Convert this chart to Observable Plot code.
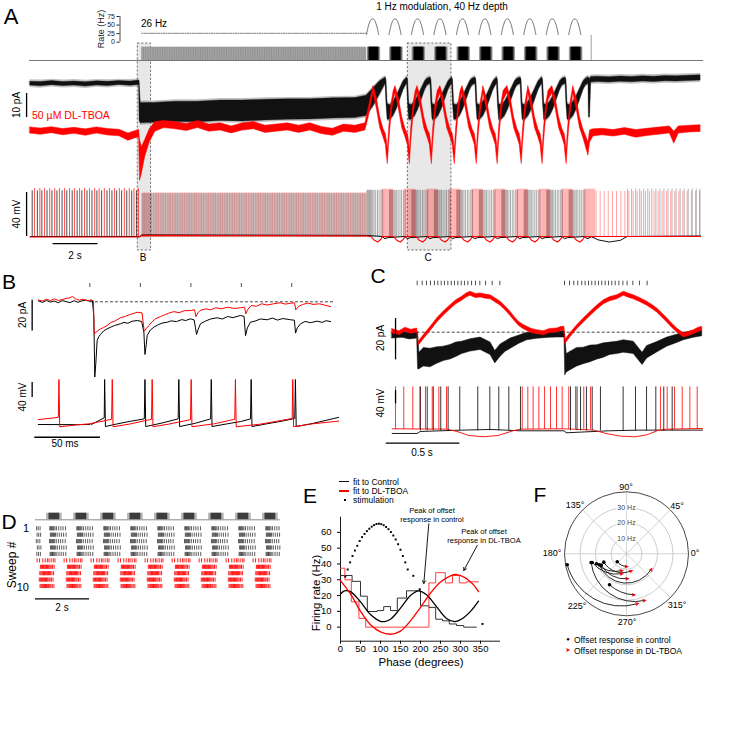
<!DOCTYPE html>
<html><head><meta charset="utf-8">
<script src="https://cdn.jsdelivr.net/npm/d3@7"></script>
<script src="https://cdn.jsdelivr.net/npm/@observablehq/plot@0.6"></script>
<style>
html,body{margin:0;padding:0;background:#fff;}
#wrap{position:relative;width:732px;height:738px;overflow:hidden;font-family:"Liberation Sans",Arial,Helvetica,sans-serif;background:#fff;}
#wrap svg{position:absolute;left:0;top:0;background:transparent !important;overflow:visible;font-family:"Liberation Sans",Arial,sans-serif;color:#000;}
.lab{position:absolute;white-space:nowrap;line-height:1;color:#000;}
.sw{position:absolute;}
</style></head><body><div id="wrap"></div>
<script>
// ================= DATA =================
const RED = "#ff0000";
// ---- Panel A (time in s) ----
const aStimStart = 5, aStimEnd = 15, aStimRate = 26;
const aCycles = [15,16,17,18,19,20,21,22,23,24];
const aArchPhase = [0,0.05,0.1,0.15,0.2,0.27,0.34,0.39,0.44,0.49,0.54];
const aArchRate  = [22,38,51,60,66,68,66,60,51,38,22];
const aBurstOuter = [0.03,0.63], aBurstMid = [0.08,0.58], aBurstInner = [0.13,0.53];
const aBoxStart = [4.82,16.84], aBoxEnd = [5.41,18.78];
// current (pA): [t, lo, hi]
const aBlackPre = [[0.03,-1.3,0.3],[0.5,-1.6,0.2],[1,-1.1,0.6],[1.5,-1.5,0.2],[2,-1.3,0.4],[2.5,-1.7,0.1],[3,-1.2,0.5],[3.5,-1.5,0.3],[4,-1.0,0.6],[4.5,-1.4,0.4],[4.88,-1.0,0.8]];
const aBlackStim = [[4.9,-16,0.5],[4.95,-17,-8.5],[5.5,-16.8,-8.5],[6.5,-16.5,-8],[7.5,-16.6,-8],[8.5,-16,-7.5],[9.5,-16.2,-7.5],[10.5,-15.8,-7.2],[11.5,-15.5,-7],[12.5,-15.4,-7],[13.5,-15,-6.6],[14.5,-14.8,-6.5],[15.0,-14,-5.5],[15.3,-10,-2.5],[15.6,-5,0.5]];
const aBlackPeaks = [15.85,16.81,17.85,18.81,19.85,20.81,21.86,22.82,23.86,24.88];
const aBlackCycle = [[0,-0.5,2.1],[0.04,-9,1],[0.09,-15.5,-9],[0.2,-15.5,-9.5],[0.35,-14,-8],[0.5,-11,-5.5],[0.65,-7,-2.5],[0.8,-3,0.5],[0.9,-1.2,1.6]];
const aBlackEnd = [[24.88,-0.5,2.2],[24.9,-14.5,2],[24.95,-14.5,1.5],[25.0,0,2.3],[25.3,0.2,2.4],[25.8,0,2.2],[26.3,0.3,2.5],[26.8,0.1,2.3],[27.3,0.4,2.6],[27.8,0.2,2.4],[28.3,0.5,2.7],[28.8,0.4,2.6],[29.3,0.6,2.8],[29.87,0.8,3]];
const aRedPre = [[0.03,-21.3,-18.7],[0.5,-21.8,-19.2],[1,-21.1,-18.6],[1.5,-22,-19.4],[2,-21.4,-18.9],[2.5,-22.2,-19.5],[3,-21.3,-18.7],[3.5,-22.1,-19.4],[4,-22.4,-19.7],[4.4,-24.3,-21.2],[4.7,-23.3,-20.3],[4.88,-22.8,-19.8]];
const aRedStim = [[4.92,-41,-24],[5.0,-38,-27],[5.15,-31,-24],[5.35,-25,-19.5],[5.6,-20.5,-16.5],[6.0,-19,-16],[6.5,-19.5,-16.5],[7,-20.2,-17.3],[7.5,-19,-16],[8,-20.5,-17.5],[8.5,-20,-17],[9,-21.2,-18.3],[9.5,-20,-17],[10,-19.5,-16.5],[10.5,-21,-18],[11,-20.5,-17.5],[11.5,-20,-17],[12,-21,-18],[12.5,-20,-17],[13,-21.5,-18.5],[13.5,-22.2,-19.3],[14,-20.5,-17.5],[14.5,-21,-18],[14.95,-20,-17],[15.1,-14.5,-10.5]];
const aRedPeaks = [15.31,16.29,17.27,18.29,19.27,20.2,21.27,22.2,23.27,24.2];
const aRedCycle = [[0,-4.5,-1.5],[0.15,-11,-6.5],[0.3,-19,-14.5],[0.45,-23,-19.5],[0.55,-26,-21.5],[0.6,-31,-24.5],[0.64,-34,-28.5],[0.7,-25,-19],[0.8,-14,-9],[0.9,-7.5,-3.5]];
const aRedPost = [[24.2,-4.5,-1.5],[24.35,-11,-6.5],[24.5,-19,-14.5],[24.65,-23,-19.5],[24.8,-28,-23],[24.88,-30.5,-25],[24.95,-25,-20],[25.1,-22.5,-19.5],[25.5,-22,-19.3],[26,-22.5,-19.8],[26.5,-21.8,-19],[27,-23,-19.8],[27.5,-22.3,-19.3],[28,-21.8,-18.8],[28.5,-21.2,-18.3],[28.7,-25.5,-20.5],[28.9,-21.3,-18.3],[29.4,-20.8,-18],[29.87,-20.6,-17.8]];
// voltage (mV)
const aSpkBlackPre = [0.12,0.35,0.55,0.78,1.0,1.22,1.45,1.66,1.9,2.12,2.33,2.56,2.78,3.0,3.21,3.45,3.67,3.88,4.1,4.33,4.55,4.76];
const aSpkRedPre = [0.22,0.46,0.67,0.9,1.12,1.33,1.56,1.78,2.0,2.23,2.45,2.67,2.9,3.1,3.33,3.56,3.78,4.0,4.22,4.44,4.65,4.85];
const aBlackBurst = [0.02,0.06,0.1,0.14,0.18,0.23,0.28,0.34,0.41,0.49,0.56,0.64,0.72];
const aRedBurst = [0.68,0.72,0.76,0.8,0.84,0.88,0.92,0.96,1.0,1.04,1.08,1.12,1.16];
const aSpkRedPost = [25.22,25.4,25.58,25.76,25.95,26.13,26.32,26.5,26.68,26.87,27.05,27.23,27.42,27.6,27.8,27.98,28.16,28.35,28.54,28.72,28.9,29.08,29.27,29.46,29.65,29.83];
const aSpkBlackPost = [26.62,26.8,26.98,27.16,27.34,27.52,27.7,27.88,28.06,28.24,28.42,28.6,28.78,28.96,29.14,29.32,29.5,29.68,29.84];
const aVBlackCycle = [[0.7,-60],[0.82,-62],[0.95,-61]];
const aVRedCycle = [[0.2,-60],[0.35,-63.5],[0.5,-65],[0.62,-63],[0.72,-60]];
const aVBlackPost = [[25,-60],[25.3,-63],[25.8,-65],[26.3,-63.5],[26.6,-60],[29.87,-59.5]];

// ---- Panel B (time in ms) ----
const bStim = [0,38.5,77,115.4,153.8];
const bBlackI = [[-39.2,0.6],[-36,-0.4],[-33,0.9],[-30,-0.2],[-27,0.5],[-24,-0.6],[-21,0.8],[-18,0.1],[-15,-0.5],[-12,0.7],[-9,-0.3],[-6,0.6],[-3,1.2],[0,0.3],[2,0.8],[3.1,-10],[3.8,-49],[4.6,-40],[5.6,-25.2],[6.8,-22.8],[8.1,-21.3],[10.5,-19],[13.2,-17.6],[16,-16.5],[19,-15.4],[23.4,-14.3],[26,-13.4],[29,-14],[32,-12.7],[36.1,-12.2],[39.5,-12.8],[41.2,-20],[42,-34.3],[43,-28],[43.7,-22],[46,-18.5],[48.8,-16.5],[52,-15],[55,-13.9],[59,-13.3],[62,-12.4],[66,-12.9],[70,-11.6],[73,-12.2],[76.7,-11.1],[79.5,-11.8],[80.5,-17],[81.3,-21.3],[82.5,-18],[84.3,-14.3],[88,-12.6],[92,-11.2],[97,-10.4],[101,-11.2],[105,-9.6],[109,-10.3],[114.8,-8.9],[117.5,-9.5],[118.6,-22],[120,-17],[122.4,-13.3],[126,-12.5],[130,-11.2],[135.1,-11.7],[139,-10.6],[143,-11.9],[147,-10.9],[152.9,-11.7],[155.8,-12],[156.7,-20.4],[158,-17],[160.5,-14.3],[164,-12.8],[168,-13.6],[173.2,-12.6],[177,-13.4],[180,-12.3],[183.4,-12.9]];
const bRedI = [[-39.2,1.2],[-36,0.5],[-33,1.6],[-30,0.8],[-27,1.9],[-24,0.9],[-21,1.5],[-18,2.2],[-15,2.6],[-13.3,3.5],[-11,2.0],[-8,1.0],[-5,1.7],[-2,0.6],[1,1.3],[2.8,0.5],[3.3,-20.8],[5.6,-19.2],[8.1,-17.6],[10.5,-16.8],[13.2,-15.4],[16,-13.5],[19,-12.6],[23.4,-10.4],[27,-9.5],[31,-8.2],[36.1,-6.8],[39.8,-7.2],[41.4,-19.2],[43,-17.5],[45,-15.4],[47.5,-13],[50,-11.1],[54,-9.6],[57,-8.5],[60,-7.4],[64,-6.4],[68,-7.1],[72,-5.8],[76.7,-5.7],[79.8,-5.2],[80.8,-9.6],[82.5,-7],[84,-5.7],[88,-4.6],[92,-5.2],[96,-3.9],[100,-4.6],[105,-3.5],[110,-4.3],[115,-3.9],[117.9,-3.5],[118.8,-7.8],[120.5,-4.8],[123,-2.4],[127,-2.9],[131,-1.3],[135,-2.1],[140,-1.3],[145,-0.6],[149,-1.5],[152.9,-0.9],[155.9,-0.7],[156.9,-5.2],[159,-3],[162,-1.8],[166,-0.8],[170,-1.7],[175,-1.3],[179,-2.2],[183.4,-3.1]];
const bBlackV = [[-39.2,-65],[-10,-65.5],[0,-65],[0.5,-63],[1.2,-65],[11.0,-47],[11.3,55],[11.9,-70.5],[20,-64],[30,-57],[41.5,-50],[42,55],[42.6,-70.5],[55,-61],[67.3,-50],[67.8,55],[68.4,-70.5],[80,-62],[92,-50],[92.5,55],[93.1,-70.5],[105,-63],[115,-57],[122.4,-50],[122.9,55],[123.5,-70.5],[135,-63],[145,-57],[156.1,-49],[156.6,55],[157.2,-70.5],[170,-62],[189.5,-46]];
const bRedV = [[-39.2,-52],[-24,-46],[-23.5,55],[-22.9,-71],[-10,-66],[0,-63],[16.6,-51],[17.1,55],[17.7,-71],[30,-64],[47,-51],[47.5,55],[48.1,-71],[60,-64],[76.7,-52],[77.2,55],[77.8,-71],[95,-63],[110.4,-51],[110.9,55],[111.5,-71],[130,-64],[154.1,-49],[154.6,55],[155.2,-71],[170,-63],[189.5,-56]];

// ---- Panel C (time in s) ----
const cGroups = [0,1];
const cStimOffsets = [0,0.034,0.063,0.09,0.117,0.14,0.163,0.185,0.208,0.231,0.253,0.276,0.299,0.321,0.344,0.369,0.396,0.425,0.464,0.509,0.561];
const cRedI = [[-0.17,0.5],[-0.12,-0.5],[-0.08,1.2],[-0.04,0.2],[0,0.8],[0.01,-5.6],[0.045,-2.4],[0.09,1.5],[0.136,5.7],[0.18,9],[0.226,12.1],[0.265,14.5],[0.305,16.2],[0.335,17.8],[0.362,18.6],[0.4,17.5],[0.43,17.8],[0.465,17.2],[0.498,16.9],[0.53,15.5],[0.566,13.8],[0.6,11.5],[0.633,8.9],[0.66,6.5],[0.69,4.1],[0.72,2.6],[0.747,1.6],[0.78,0.5],[0.815,0],[0.86,-0.5],[0.9,0.6],[0.95,0.8],[0.98,1.6],[1.0,1.6],[1.005,-4.8],[1.04,-1.5],[1.086,2.4],[1.13,5.6],[1.177,8.9],[1.22,11.8],[1.267,14.5],[1.31,16],[1.358,16.9],[1.403,18.6],[1.44,17.6],[1.47,16.9],[1.515,15.5],[1.561,13.8],[1.6,12],[1.629,10.5],[1.665,8],[1.697,5.7],[1.73,3.2],[1.765,0.8],[1.81,-1.6],[1.845,-0.8],[1.878,0],[1.91,1.2],[1.935,1.6]];
const cBlackI = [[-0.17,-1.6,1.5],[-0.1,-1.2,1.5],[-0.05,-2,1.5],[0,-1.6,1.5],[0.006,-9,9],[0.015,-14,4],[0.045,-12.1,4.5],[0.09,-12.5,4.5],[0.136,-11.3,4],[0.18,-10.5,3.5],[0.226,-9.7,3.5],[0.265,-8.5,3.5],[0.305,-7.6,3],[0.362,-6.4,3],[0.43,-5.6,3],[0.498,-8,3],[0.53,-12.1,3],[0.566,-8.9,3],[0.6,-7,2.5],[0.633,-5.6,2.5],[0.69,-3.7,2],[0.747,-2.1,1.8],[0.815,-1.6,1.6],[0.9,-1.2,1.5],[0.95,-1.1,1.5],[1.0,-1.1,1.5],[1.005,-11,10],[1.015,-15,4.5],[1.086,-12.1,4.5],[1.13,-11.5,4],[1.177,-10.5,4],[1.22,-9.8,3.5],[1.267,-8.9,3.5],[1.31,-8,3],[1.358,-7.6,3],[1.403,-6.9,3],[1.47,-7.6,3],[1.53,-12.9,3],[1.561,-9.7,3],[1.629,-7.3,2.5],[1.697,-4.8,2.2],[1.765,-3.2,2],[1.81,-2.1,1.8],[1.878,-1.1,1.6],[1.935,-0.5,1.5]];
const cRedSpikes = [-0.147,-0.091,-0.03,0.018,0.056,0.102,0.147,0.199,0.713,0.751,0.787,0.826,0.864,0.905,0.946,0.984,1.029,1.075,1.131,1.177,1.652,1.697,1.747,1.799,1.851,1.901];
const cBlackSpikes = [0.022,0.068,0.109,0.16,0.21,0.289,0.411,0.493,0.554,0.622,0.701,1.041,1.085,1.109,1.149,1.188,1.244,1.398,1.482,1.557,1.62,1.674,1.731];
const cRedV = [[-0.17,-56],[0.2,-57],[0.27,-64],[0.35,-76],[0.45,-80],[0.55,-76],[0.65,-62],[0.7,-57],[1.0,-56],[1.2,-60],[1.28,-70],[1.38,-78],[1.48,-80],[1.56,-74],[1.64,-60],[1.7,-57],[1.937,-55]];
const cBlackV = [[-0.17,-70],[0,-70],[0.02,-64],[0.3,-60],[0.5,-58],[0.6,-60],[0.7,-62],[1.0,-62],[1.01,-68],[1.3,-62],[1.5,-60],[1.7,-60],[1.937,-60]];

// ---- Panel D (time in s, sweep rows) ----
const dCycles = [0,1,2,3,4,5,6,7,8];
const dBlockOuter = [0.41,0.99], dBlockInner = [0.5,0.9];
const dBlackStart = [0.04,0.1,0.17];
const dBlackOffsets = [0.53,0.56,0.59,0.62,0.65,0.68,0.72,0.78,0.86,0.94,1.02,1.11];
const dBlackRowShift = [0,0.02,-0.01,0.03,0.01];
const dRed6Offsets = [0.06,0.15,0.27,0.36,0.44,0.5,0.58,0.66,0.72];
const dRedOffsets = [0.16,0.2,0.24,0.27,0.3,0.33,0.36,0.39,0.42,0.45,0.48,0.52,0.56,0.61,0.67];
const dRedRowShift = [0.02,0,-0.02,0.01];
const dEnd = 9.07;

// ---- Panel E ----
const eXTicks = [0,50,100,150,200,250,300,350];
const eYTicks = [0,10,20,30,40,50,60];
const eStimPhase = [12,18,24,30,36,42,48,54,60,66,72,78,84,90,96,102,108,114,120,126,132,138,144,150,156,162,168,182,198,355];
const eStimRate  = [32,36.5,41,45,48.5,51.5,54.5,57,59,60.8,62.3,63.6,64.6,65.3,65.5,65.2,64.5,63.4,62,60.2,58,55.5,52.5,49,45,41,36.5,32.5,24,2];
const eCtrlEdges = [0,29,50,67,92,108,125,142,165,200,221,238,255,272,290,308,340];
const eCtrlHist  = [32.7,29,19.6,9.9,10.5,13,10.5,18.4,23,13.5,12.5,5,4,2,1,0];
const eTboaEdges = [0,11,27,46,63,221,238,262,280,297,315,345];
const eTboaHist  = [37.3,30,16,5.5,0,28,34.5,28,32.7,28,28.7];
const eCtrlFitPhase = [0,10,25,50,75,100,110,125,150,175,195,215,240,265,285,305,325,345];
const eCtrlFitRate  = [21,23,22.5,16,8,3.7,3.5,5,12,20,23,20.5,13,5.5,3.5,5.5,10,16.5];
const eTboaFitPhase = [0,25,50,75,100,125,150,175,200,225,250,275,290,310,330,345];
const eTboaFitRate  = [29.5,21,10,1.5,-3,-4.5,-2.5,4,12.5,21.5,28.5,32.5,33.3,31.5,27.5,22.5];
const eArrowCtrl = [220.75,65.4,208.3,27.7];
const eArrowTboa = [341.8,51.7,308.3,35.9];

// ---- Panel F (polar) ----
const fRings = [10,20,30];
const fSpokes = [0,45,90,135,180,225,270,315];
const fCtrlAngle = [220.6,200.2,198.4,194.2,201.9,204.1,241.3,190.5,193.8];
const fCtrlRate  = [7.9,15.6,20.4,22.8,19,17.9,22.8,38.9,23.5];
const fTboaAngle = [270,285.4,253.6,256,327.6,271.5,280.1,282,291.1];
const fTboaRate  = [8.2,11.4,11.4,13.3,18.9,16.1,26.9,33,32.3];

// ================= DRAWING =================
const W = 732, H = 738;
const wrap = document.getElementById("wrap");
function P(o){
  const svg = Plot.plot(Object.assign({width:W,height:H,margin:0,style:{background:"transparent",overflow:"visible",color:"#000"}}, o));
  wrap.appendChild(svg); return svg;
}
function lab(text,x,y,o={}){
  const d=document.createElement("div"); d.className="lab"; d.innerHTML=text;
  d.style.fontSize=(o.size||10)+"px"; d.style.color=o.color||"#000";
  if(o.lh) d.style.lineHeight=o.lh; if(o.align) d.style.textAlign=o.align;
  const tx=o.anchor==="start"?"0":o.anchor==="end"?"-100%":"-50%";
  d.style.left=x+"px"; d.style.top=y+"px";
  d.style.transform=`translate(${tx},-50%) rotate(${o.rot||0}deg)`;
  if(o.family) d.style.fontFamily=o.family;
  wrap.appendChild(d);
}
function sw(x,y,w,h,c){const d=document.createElement("div");d.className="sw";Object.assign(d.style,{left:x+"px",top:y+"px",width:w+"px",height:h+"px",background:c});wrap.appendChild(d);}

// ---------- A ----------
const xA = {domain:[0,30], range:[29,703], axis:null};
P({x:xA, y:{domain:[0,1], range:[250,43], axis:null}, marks:[
  Plot.rect(aBoxStart.map((s,i)=>({s,e:aBoxEnd[i]})), {x1:"s", x2:"e", y1:0, y2:1, fill:"#e8e8e8", stroke:"#444", strokeWidth:0.8, strokeDasharray:"2,2"})
]});
(function(){const svg=Plot.plot({width:W,height:H,marginLeft:119.5,marginRight:W-125,marginTop:16,marginBottom:H-41.7,
  style:{background:"transparent",overflow:"visible",color:"#222"}, x:{domain:[0,1],axis:null}, y:{domain:[0,75],axis:null},
  marks:[Plot.axisY([0,25,50,75],{tickSize:3,fontSize:7,label:null,tickPadding:2,fill:"#222",stroke:"#222"}), Plot.ruleX([0],{strokeWidth:0.8,stroke:"#222"})]});
  wrap.appendChild(svg);})();
const stimTimes = d3.range(0, (aStimEnd-aStimStart)*aStimRate).map(n=>aStimStart + n/aStimRate);
const archRows = aCycles.flatMap((c,k)=>aArchPhase.map((p,i)=>({t:c+p, r:aArchRate[i], k})));
P({x:xA, y:{domain:[0,75], range:[41.7,16], axis:null}, marks:[
  Plot.line([[aStimStart,aStimRate],[aStimEnd,aStimRate]], {x:d=>d[0], y:d=>d[1], stroke:"#777", strokeWidth:1, strokeDasharray:"1.2,1.2"}),
  Plot.line(archRows, {x:"t", y:"r", z:"k", stroke:"#555", strokeWidth:0.8, curve:"catmull-rom"})
]});
P({x:xA, y:{domain:[0,1], range:[60,46.7], axis:null}, marks:[
  Plot.rect([0], {x1:aStimStart, x2:aStimEnd, y1:0, y2:1, fill:"#ababab"}),
  Plot.ruleX(stimTimes.filter((t,i)=>i%2===0), {y1:0, y2:1, stroke:"#666", strokeWidth:0.6, strokeOpacity:0.6}),
  Plot.rect(aCycles, {x1:d=>d+aBurstOuter[0], x2:d=>d+aBurstOuter[1], y1:0, y2:1, fill:"#9a9a9a"}),
  Plot.rect(aCycles, {x1:d=>d+aBurstMid[0], x2:d=>d+aBurstMid[1], y1:0, y2:1, fill:"#444"}),
  Plot.rect(aCycles, {x1:d=>d+aBurstInner[0], x2:d=>d+aBurstInner[1], y1:0, y2:1, fill:"#000"}),
  Plot.ruleX([25], {y1:0, y2:1.9, stroke:"#777", strokeWidth:0.7}),
  Plot.ruleY([0], {x1:0, x2:30, stroke:"#777", strokeWidth:1})
]});
const aBlackRows = [...aBlackPre, ...aBlackStim];
aBlackPeaks.slice(0,-1).forEach(p=>aBlackCycle.forEach(([dt,lo,hi])=>aBlackRows.push([p+dt,lo,hi])));
aBlackRows.push(...aBlackEnd);
const aRedRows = [...aRedPre, ...aRedStim];
aRedPeaks.slice(0,-1).forEach(p=>aRedCycle.forEach(([dt,lo,hi])=>aRedRows.push([p+dt,lo,hi])));
aRedRows.push(...aRedPost);
P({x:xA, y:{domain:[0,-10], range:[82,106], axis:null}, marks:[
  Plot.areaY(aBlackRows, {x:d=>d[0], y1:d=>d[1]-0.8, y2:d=>d[2]+0.8, fill:"#777", fillOpacity:0.45}),
  Plot.areaY(aBlackRows, {x:d=>d[0], y1:d=>d[1], y2:d=>d[2], fill:"#111", stroke:"#111", strokeWidth:0.4}),
  Plot.areaY(aRedRows, {x:d=>d[0], y1:d=>d[1], y2:d=>d[2], fill:RED, stroke:RED, strokeWidth:0.5}),
  Plot.ruleX([-0.13], {y1:-4.6, y2:-14.6, strokeWidth:1.3})
]});
const aVBlack = [[0.03,-60],[4.9,-60],[5,-58.5],[15,-59]];
aCycles.forEach(c=>aVBlackCycle.forEach(([dt,v])=>aVBlack.push([c+dt,v])));
aVBlack.push(...aVBlackPost);
const aVRed = [[0.03,-60.5],[4.9,-60.5],[5,-59],[15,-59.5]];
aCycles.forEach(c=>aVRedCycle.forEach(([dt,v])=>aVRed.push([c+dt,v])));
aVRed.push([25.1,-60],[29.87,-60]);
const aBurstBlackT = aCycles.flatMap(c=>aBlackBurst.map(o=>c+o));
const aBurstRedT = aCycles.flatMap(c=>aRedBurst.map(o=>c+o));
P({x:xA, y:{domain:[-60,-20], range:[236,192], axis:null}, marks:[
  Plot.ruleX(stimTimes, {y1:-61, y2:-21, stroke:"#000", strokeWidth:0.5, strokeOpacity:0.42}),
  Plot.ruleX(stimTimes.filter((t,i)=>i%2===1).map(t=>t+0.012), {y1:-61, y2:-20, stroke:RED, strokeWidth:0.6, strokeOpacity:0.45}),
  Plot.ruleX(aBurstBlackT, {y1:-61, y2:-18, stroke:"#000", strokeWidth:0.6, strokeOpacity:0.55}),
  Plot.ruleX(aBurstRedT, {y1:-62, y2:-17, stroke:RED, strokeWidth:0.8, strokeOpacity:0.35}),
  Plot.line(aVBlack, {x:d=>d[0], y:d=>d[1], stroke:"#111", strokeWidth:1}),
  Plot.line(aVRed, {x:d=>d[0], y:d=>d[1], stroke:RED, strokeWidth:1.1}),
  Plot.ruleX(aSpkBlackPre, {y1:-60, y2:-18.5, stroke:"#000", strokeWidth:0.7}),
  Plot.ruleX(aSpkRedPre, {y1:-60, y2:-16.5, stroke:RED, strokeWidth:0.7}),
  Plot.ruleX(aSpkRedPost, {y1:-60, y2:-19, stroke:RED, strokeWidth:0.6, strokeOpacity:0.6}),
  Plot.ruleX(aSpkBlackPost, {y1:-60, y2:-17, stroke:"#333", strokeWidth:0.6, strokeOpacity:0.6}),
  Plot.ruleX([-0.13], {y1:-60, y2:-20, strokeWidth:1.3}),
  Plot.ruleY([-66.4], {x1:1.05, x2:3.05, strokeWidth:1.3})
]});
lab("A",11,17,{size:22});
lab("Rate (Hz)",101,29,{size:9,rot:-90,color:"#222"});
lab("26 Hz",141,24,{size:10,anchor:"start"});
lab("1 Hz modulation, 40 Hz depth",442,7,{size:10});
lab("10 pA",17,105,{size:10,rot:-90});
lab("50 µM DL-TBOA",32,115,{size:10.5,anchor:"start",color:RED});
lab("40 mV",17,214,{size:10,rot:-90});
lab("2 s",75,256,{size:10});
lab("B",143,258,{size:10}); lab("C",428,258,{size:10});

// ---------- B ----------
const xB = {domain:[0,100], range:[89.3,220.6], axis:null};
P({x:xB, y:{domain:[0,-20], range:[301.3,332], axis:null}, marks:[
  Plot.ruleY([0], {x1:0.5, x2:185.6, stroke:"#333", strokeDasharray:"3,2", strokeWidth:0.9}),
  Plot.ruleX(bStim, {y1:9.3, y2:11.9, stroke:"#222", strokeWidth:0.8}),
  Plot.line(bBlackI, {x:d=>d[0], y:d=>d[1], stroke:"#000", strokeWidth:1}),
  Plot.line(bRedI, {x:d=>d[0], y:d=>d[1], stroke:RED, strokeWidth:1}),
  Plot.ruleX([-43.9], {y1:1, y2:-19, strokeWidth:1.3})
]});
P({x:xB, y:{domain:[-65,-25], range:[424,409], axis:null}, marks:[
  Plot.line(bBlackV, {x:d=>d[0], y:d=>d[1], stroke:"#000", strokeWidth:1}),
  Plot.line(bRedV, {x:d=>d[0], y:d=>d[1], stroke:RED, strokeWidth:1}),
  Plot.ruleX([-43.9], {y1:7, y2:47, strokeWidth:1.3}),
  Plot.ruleY([-99], {x1:-41.9, x2:8.1, strokeWidth:1.3})
]});
lab("B",9,281,{size:21});
lab("20 pA",23,315,{size:10,rot:-90});
lab("40 mV",23,397,{size:10,rot:-90});
lab("50 ms",65,444,{size:10});

// ---------- C ----------
const xC = {domain:[0,1], range:[416.7,564], axis:null};
const cStimT = cGroups.flatMap(g=>cStimOffsets.map(o=>g+o));
P({x:xC, y:{domain:[0,-20], range:[331.7,373], axis:null}, marks:[
  Plot.areaY(cBlackI, {x:d=>d[0], y1:d=>d[1]-d[2], y2:d=>d[1]+d[2], fill:"#111", stroke:"#111", strokeWidth:0.5}),
  Plot.ruleY([0], {x1:0, x2:1.93, stroke:"#333", strokeDasharray:"3,2", strokeWidth:0.9}),
  Plot.areaY(cRedI, {x:d=>d[0], y1:d=>d[1]-1.0, y2:d=>d[1]+1.0, fill:RED, stroke:RED, strokeWidth:0.5}),
  Plot.ruleX(cStimT, {y1:22.5, y2:24.7, stroke:"#222", strokeWidth:0.8}),
  Plot.ruleX([-0.147], {y1:6.6, y2:-13.4, strokeWidth:1.3})
]});
P({x:xC, y:{domain:[-65,-25], range:[431.3,418], axis:null}, marks:[
  Plot.line(cBlackV, {x:d=>d[0], y:d=>d[1], stroke:"#000", strokeWidth:0.9}),
  Plot.line(cRedV, {x:d=>d[0], y:d=>d[1], stroke:RED, strokeWidth:0.9}),
  Plot.ruleX(cBlackSpikes, {y1:-62, y2:70, stroke:"#000", strokeWidth:0.8}),
  Plot.ruleX(cRedSpikes, {y1:-58, y2:70, stroke:RED, strokeWidth:0.8}),
  Plot.ruleX([-0.147], {y1:19, y2:59, strokeWidth:1.3}),
  Plot.ruleY([-99.2], {x1:-0.21, x2:0.29, strokeWidth:1.3})
]});
lab("C",378,275,{size:21});
lab("20 pA",381,338,{size:10,rot:-90});
lab("40 mV",381,403,{size:10,rot:-90});
lab("0.5 s",422,453,{size:10});

// ---------- D ----------
const xD = {domain:[0,1], range:[35,62], axis:null};
const dTicks = [];
for (let r=1;r<=5;r++){ const s=dBlackRowShift[r-1];
  dBlackStart.forEach(o=>dTicks.push({t:o+s,row:r,c:"k"}));
  dCycles.forEach(k=>dBlackOffsets.forEach(o=>dTicks.push({t:k+o+s,row:r,c:"k"}))); }
dCycles.forEach(k=>dRed6Offsets.forEach(o=>dTicks.push({t:k+o,row:6,c:"r"})));
for (let r=7;r<=10;r++){ const s=dRedRowShift[r-7];
  dCycles.forEach(k=>dRedOffsets.forEach(o=>dTicks.push({t:k+o+s,row:r,c:"r"}))); }
const dTicksIn = dTicks.filter(d=>d.t<=dEnd);
P({x:xD, y:{domain:[1,10], range:[528.3,586], axis:null}, marks:[
  Plot.rect(dCycles, {x1:d=>d+dBlockOuter[0], x2:d=>Math.min(dEnd,d+dBlockOuter[1]), y1:-1.43, y2:-0.4, fill:"#b5b5b5"}),
  Plot.rect(dCycles, {x1:d=>d+dBlockInner[0], x2:d=>Math.min(dEnd,d+dBlockInner[1]), y1:-1.43, y2:-0.4, fill:"#3c3c3c"}),
  Plot.ruleY([-0.4], {x1:0, x2:dEnd, stroke:"#888", strokeWidth:1}),
  Plot.ruleX(dTicksIn.filter(d=>d.c==="k"), {x:"t", y1:d=>d.row-0.32, y2:d=>d.row+0.32, stroke:"#333", strokeWidth:0.8}),
  Plot.ruleX(dTicksIn.filter(d=>d.c==="r"), {x:"t", y1:d=>d.row-0.32, y2:d=>d.row+0.32, stroke:RED, strokeWidth:0.9}),
  Plot.ruleY([11.92], {x1:0, x2:2, strokeWidth:1.3})
]});
lab("D",9,521,{size:21});
lab("Sweep #",12,565,{size:12,rot:-90});
lab("1",29,528,{size:11,anchor:"end"});
lab("10",29,587,{size:11,anchor:"end"});
lab("2 s",62,608,{size:10});

// ---------- E ----------
const stepPts = (edges,vals)=>edges.map((e,i)=>[e, vals[Math.min(i,vals.length-1)]]);
P({marginLeft:340, marginRight:W-500, marginTop:516.7, marginBottom:H-640.7,
  x:{domain:[0,400]}, y:{domain:[-8.9,69.6]}, marks:[
  Plot.axisX(eXTicks, {tickSize:3, tickPadding:1.5, fontSize:9.5, label:null}),
  Plot.axisY(eYTicks, {tickSize:3, fontSize:9.5, label:null}),
  Plot.ruleX([0], {strokeWidth:0.9}), Plot.ruleY([-8.9], {strokeWidth:0.9}),
  Plot.line(stepPts(eCtrlEdges,eCtrlHist), {x:d=>d[0], y:d=>d[1], curve:"step-after", stroke:"#333", strokeWidth:1}),
  Plot.line(stepPts(eTboaEdges,eTboaHist), {x:d=>d[0], y:d=>d[1], curve:"step-after", stroke:"#ff4040", strokeWidth:1}),
  Plot.line(eCtrlFitPhase.map((p,i)=>[p,eCtrlFitRate[i]]), {x:d=>d[0], y:d=>d[1], curve:"catmull-rom", stroke:"#000", strokeWidth:1.3}),
  Plot.line(eTboaFitPhase.map((p,i)=>[p,eTboaFitRate[i]]), {x:d=>d[0], y:d=>d[1], curve:"catmull-rom", stroke:RED, strokeWidth:1.3}),
  Plot.dot(eStimPhase.map((p,i)=>[p,eStimRate[i]]), {x:d=>d[0], y:d=>d[1], symbol:"square", r:1.1, fill:"#000"}),
  Plot.arrow([eArrowCtrl], {x1:d=>d[0], y1:d=>d[1], x2:d=>d[2], y2:d=>d[3], headLength:5, strokeWidth:0.9, stroke:"#000"}),
  Plot.arrow([eArrowTboa], {x1:d=>d[0], y1:d=>d[1], x2:d=>d[2], y2:d=>d[3], headLength:5, strokeWidth:0.9, stroke:"#000"})
]});
lab("E",310,495,{size:21});
sw(339,481,10,1.2,"#000"); lab("fit to Control",353,482,{size:8.5,anchor:"start"});
sw(339,490.3,10,1.6,RED); lab("fit to DL-TBOA",353,491,{size:8.5,anchor:"start"});
sw(344,499,2,2,"#000"); lab("stimulation",353,500,{size:8.5,anchor:"start"});
lab("Firing rate (Hz)",317,593,{size:11.5,rot:-90});
lab("Phase (degrees)",421,663,{size:11.5});
lab("Peak of offset<br>response in control",432,516,{size:7.5,lh:1.15,align:"center"});
lab("Peak of offset<br>response in DL-TBOA",484,537,{size:7.5,lh:1.15,align:"center"});

// ---------- F ----------
const rad = Math.PI/180;
const fPairs = fCtrlAngle.map((a,i)=>{
  const x1=fCtrlRate[i]*Math.cos(a*rad), y1=fCtrlRate[i]*Math.sin(a*rad);
  const x2=fTboaRate[i]*Math.cos(fTboaAngle[i]*rad), y2=fTboaRate[i]*Math.sin(fTboaAngle[i]*rad);
  const bend = -Math.min(85,(fTboaAngle[i]-a)/2);
  const chord = Math.atan2(-(y2-y1), x2-x1)/rad;
  return {x1,y1,x2,y2,bend,rot:chord+bend};
});
P({x:{domain:[-40,40], range:[564,688], axis:null}, y:{domain:[-40,40], range:[615.3,491.3], axis:null},
  r:{type:"linear", domain:[0,40], range:[0,62]}, marks:[
  Plot.link(fSpokes, {x1:0, y1:0, x2:a=>40*Math.cos(a*rad), y2:a=>40*Math.sin(a*rad), stroke:"#c8c8c8", strokeWidth:0.8}),
  Plot.dot(fRings, {x:0, y:0, r:d=>d, stroke:"#c0c0c0", fill:"none", strokeWidth:0.8}),
  Plot.dot([40], {x:0, y:0, r:d=>d, stroke:"#333", fill:"none", strokeWidth:0.9}),
  Plot.text(fRings, {x:0, y:d=>d, text:d=>d+" Hz", fontSize:7, fill:"#444", stroke:"white", strokeWidth:2.5}),
  ...fPairs.map(p=>Plot.arrow([p], {x1:"x1", y1:"y1", x2:"x2", y2:"y2", bend:p.bend, headLength:0, stroke:"#111", strokeWidth:0.9})),
  Plot.dot(fPairs, {x:"x1", y:"y1", r:1.8, fill:"#000"}),
  Plot.text(fPairs, {x:"x2", y:"y2", text:()=>"➤", rotate:"rot", fill:RED, fontSize:6.5, fontFamily:"DejaVu Sans"})
]});
lab("F",540,494,{size:21});
lab("90°",626,487,{size:9}); lab("45°",677,506,{size:9}); lab("135°",575,505,{size:9});
lab("180°",552,553,{size:9}); lab("0°",695,553,{size:9}); lab("225°",577,606,{size:9});
lab("315°",677,605,{size:9}); lab("270°",627,622,{size:9});
lab("●",568,639,{size:6}); lab("Offset response in control",574,639.5,{size:8.5,anchor:"start"});
lab("➤",568,650,{size:6.5,color:RED,family:"DejaVu Sans"}); lab("Offset response in DL-TBOA",574,650.5,{size:8.5,anchor:"start"});
</script></body></html>
